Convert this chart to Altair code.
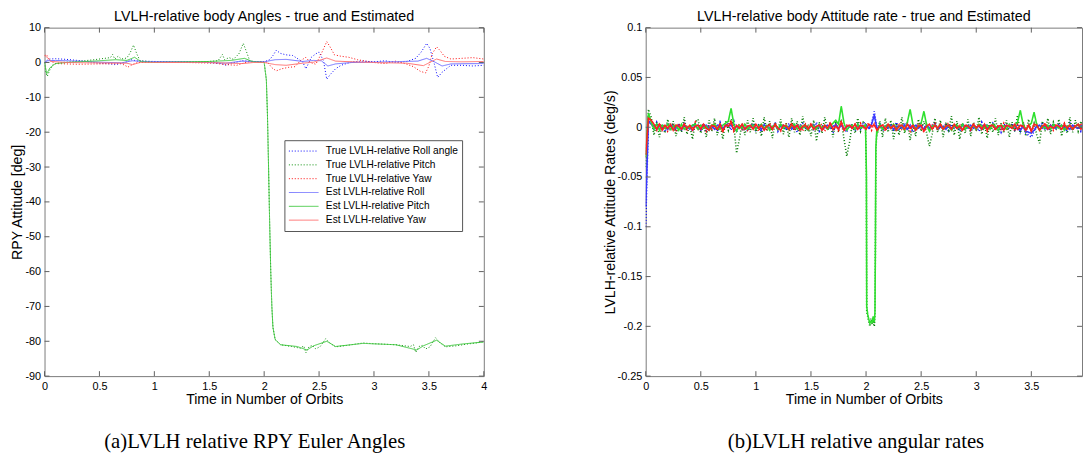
import altair as alt
import pandas as pd

# ---------------- shared series definitions ----------------
series_names = ["True LVLH-relative Roll angle", "True LVLH-relative Pitch", "True LVLH-relative Yaw",
                "Est LVLH-relative Roll", "Est LVLH-relative Pitch", "Est LVLH-relative Yaw"]
series_colors = ["#0000ff", "#008a00", "#ff0000", "#6f6fff", "#3fc83f", "#ff6f6f"]
series_colors_rates = ["#0000ff", "#007a00", "#ff0000", "#3a3aff", "#2ee02e", "#ff2020"]
series_dashes = [[1, 2], [1, 2], [1, 2], [1, 0], [1, 0], [1, 0]]

titles = ["LVLH-relative body Angles - true and Estimated",
          "LVLH-relative body Attitude rate - true and Estimated"]
x_title = "Time in Number of Orbits"
y_titles = ["RPY Attitude [deg]", "LVLH-relative Attitude Rates (deg/s)"]
captions = ["(a)LVLH relative RPY Euler Angles", "(b)LVLH relative angular rates"]

x_ticks_left = [0, 0.5, 1, 1.5, 2, 2.5, 3, 3.5, 4]
x_ticks_right = [0, 0.5, 1, 1.5, 2, 2.5, 3, 3.5]
y_ticks_left = [-90, -80, -70, -60, -50, -40, -30, -20, -10, 0, 10]
y_ticks_right = [-0.25, -0.2, -0.15, -0.1, -0.05, 0, 0.05, 0.1]

# ---------------- left panel: angles (deg) ----------------
true_roll_t = [0, 0.02, 0.05, 0.1, 0.2, 0.3, 0.4, 0.5, 0.6, 0.64, 0.7, 0.75, 0.79, 0.85, 1.0, 1.2, 1.4, 1.55, 1.62, 1.65,
               1.7, 1.8, 1.9, 2.0, 2.05, 2.08, 2.11, 2.15, 2.2, 2.26, 2.3, 2.35, 2.38, 2.43, 2.47, 2.5, 2.54, 2.57, 2.6, 2.65,
               2.7, 2.8, 2.9, 3.0, 3.1, 3.2, 3.3, 3.38, 3.43, 3.48, 3.51, 3.55, 3.58, 3.62, 3.7, 3.8, 3.9, 4.0]
true_roll_v = [0, 0.6, 1.0, 1.1, 0.9, 0.6, 0.2, -0.2, -0.4, -0.6, -0.3, 0.2, 0.8, 0.4, 0.3, 0.2, 0.1, 0, -0.4, -0.8,
               -0.2, 0.5, 0.3, 0.2, 0.8, 2.0, 3.5, 2.6, 2.2, 2.0, 1.2, 0.2, -1.8, 1.5, 2.5, 3.0, 0.5, -4.8, -3.5, -1.8,
               -0.8, 0.2, 0.4, 0.2, 0.5, 0, 0.3, 1.2, 3.0, 5.5, 4.0, -0.5, -4.3, -2.8, -0.8, -0.8, -1.0, -0.8]

true_pitch_t = [0, 0.01, 0.025, 0.05, 0.08, 0.15, 0.3, 0.45, 0.55, 0.6, 0.62, 0.64, 0.67, 0.7, 0.75, 0.78, 0.81, 0.84, 0.87, 0.95,
                1.2, 1.45, 1.58, 1.62, 1.64, 1.68, 1.72, 1.77, 1.81, 1.84, 1.87, 1.95, 2.0, 2.02, 2.03, 2.04, 2.05, 2.06, 2.07, 2.08,
                2.1, 2.15, 2.25, 2.33, 2.36, 2.38, 2.41, 2.44, 2.47, 2.51, 2.56, 2.6, 2.65, 2.75, 2.9, 3.0, 3.2, 3.33, 3.36, 3.38,
                3.41, 3.44, 3.47, 3.51, 3.56, 3.6, 3.65, 3.75, 3.85, 3.95, 4.0]
true_pitch_v = [0, -2.5, -4.0, -2.0, -0.5, 0, 0.3, 0.8, 1.2, 1.4, 2.3, 1.0, 1.8, 1.0, 1.3, 2.8, 5.0, 2.5, 0.5, 0.3,
                0.2, 0.2, 0.5, 2.3, 0.8, 1.4, 0.9, 2.5, 5.5, 3.0, 0.4, 0.2, 0.1, -5, -15, -30, -46, -60, -70, -76,
                -79.5, -81, -81.5, -82, -81.3, -83.3, -81.5, -81.2, -82.2, -81.5, -79.3, -80.5, -81.6, -81.2, -80.5, -80.7, -81.0, -81.5, -81.0, -83.2,
                -81.5, -81.2, -82.2, -81.6, -79.0, -80.4, -81.6, -81.3, -80.8, -80.4, -80.1]

true_yaw_t = [0, 0.02, 0.05, 0.1, 0.3, 0.5, 0.7, 0.76, 0.8, 0.85, 1.0, 1.3, 1.55, 1.65, 1.75, 1.8, 1.85, 1.95, 2.03, 2.07,
              2.11, 2.16, 2.22, 2.28, 2.33, 2.38, 2.42, 2.47, 2.52, 2.57, 2.6, 2.64, 2.7, 2.77, 2.85, 3.0, 3.1, 3.2, 3.3, 3.36,
              3.42, 3.47, 3.5, 3.53, 3.57, 3.6, 3.64, 3.7, 3.8, 3.9, 4.0]
true_yaw_v = [2.0, 2.2, 0.5, -0.3, -0.5, -0.4, -0.3, -1.3, -0.6, 0, 0.1, 0, -0.2, -0.6, -0.8, -0.3, 0.2, 0.3, 0.1, -1.5,
              -2.4, -1.8, -1.4, -1.2, 0.5, 1.5, 0, -0.5, 2.5, 6.0, 4.5, 2.2, 1.8, 1.5, 0.8, 0, -0.3, 0.4, -0.5, -1.2,
              -2.5, -3.0, -1.0, 2.5, 4.5, 3.5, 1.8, 1.0, 1.2, 1.4, 1.0]

est_roll_t = [0, 0.03, 0.1, 0.3, 0.5, 0.7, 0.8, 0.9, 1.3, 1.65, 1.8, 2.0, 2.1, 2.2, 2.35, 2.45, 2.52, 2.58, 2.65, 2.8,
              3.0, 3.4, 3.48, 3.55, 3.62, 3.7, 4.0]
est_roll_v = [0, 0.5, 0.6, 0.4, 0.1, -0.1, 0.5, 0.3, 0.2, -0.2, 0.4, 0.2, 0.8, 0.9, 0.3, 0.6, 0.5, -1.0, -0.4, 0,
              0.1, 0.4, 1.2, 0.2, -1.0, -0.4, -0.3]

est_pitch_t = [0, 0.02, 0.05, 0.1, 0.2, 0.5, 0.65, 0.75, 0.82, 0.88, 1.0, 1.5, 1.7, 1.82, 1.9, 2.0, 2.02, 2.03, 2.04, 2.05,
               2.06, 2.07, 2.08, 2.1, 2.15, 2.3, 2.39, 2.45, 2.57, 2.65, 2.9, 3.2, 3.39, 3.45, 3.57, 3.65, 3.8, 4.0]
est_pitch_v = [0, -3.2, -1.5, -0.3, 0, 0.5, 0.8, 0.6, 1.5, 0.2, 0, 0.3, 0.6, 1.2, 0.2, 0, -5, -15, -30, -46,
               -60, -70, -76, -79.5, -81, -81.5, -82.5, -81.3, -80, -81.5, -80.6, -81, -82.5, -81.3, -79.7, -81.4, -80.8, -80.2]

est_yaw_t = [0, 0.02, 0.06, 0.2, 0.75, 0.8, 0.87, 1.5, 1.8, 1.9, 2.0, 2.1, 2.2, 2.35, 2.45, 2.57, 2.65, 2.8, 3.0, 3.3,
             3.45, 3.57, 3.65, 3.8, 4.0]
est_yaw_v = [2.0, 1.6, 0.3, 0, -0.2, -0.6, 0, 0, -0.3, 0, 0, -0.6, -0.8, -0.2, 0.1, 1.3, 0.4, 0.2, 0, -0.2,
             -0.9, 1.0, 0.3, 0.2, 0.3]

# ---------------- right panel: rates, in 0.001 deg/s, sampled every 0.025 orbit ----------------
rate_step = 0.025
rate_true_roll = [-100, 8, 4, -3, 5, -2, 3, -5, 4, -1, 3, -4, 2, -3, 5, -2, 1, -4, 3, 2,
                  -3, 4, -5, 2, -1, 3, -4, 5, -2, 1, 4, -3, 6, -5, 2, -2, 3, -4, 1, 4,
                  -3, 2, -5, 4, -1, 3, -2, 5, -4, 2, 1, -3, 4, -2, 3, -5, 2, 4, -1, -3,
                  3, -2, 5, -4, 1, 2, -3, 4, -6, 3, -2, 4, -1, -5, 3, 2, -4, 3, -2, 5,
                  3, -2, 4, 16, -3, 5, -4, 2, -1, 3, -4, 5, -2, 1, 4, -3, 2, -5, 3, -1,
                  4, -2, 3, -4, 2, 5, -3, 1, -2, 4, -5, 3, -1, 2, -4, 4, -2, 3, -3, 1,
                  2, -4, 5, -2, 3, -1, 4, -3, 2, -5, 3, 1, -2, 4, -3, 2, -4, 5, -6, -8,
                  -10, -4, 3, -2, 5, -3, 2, -4, 4, -1, 3, -3, 2, -5, 4, -2, 1, 3, -4, 2, -1]
rate_true_pitch = [-40, 18, 10, -8, 5, -10, 3, -6, 8, -4, 6, -9, 4, -5, 10, -7, 2, -12, 5, 8,
                   -6, 3, -10, 7, -4, 9, -8, 4, -12, 6, -3, 8, 2, -26, -12, 4, -8, 7, -5, 9,
                   -6, 3, -9, 10, -4, 6, -11, 5, -3, 8, -7, 4, -10, 9, -5, 6, -8, 11, -4, 3,
                   -9, 7, -14, 5, -6, 10, -3, 4, -10, 6, -5, 8, -12, -29, -15, 3, -6, 9, -4, 5,
                   -2, -185, -200, -172, -8, 6, -10, 9, -5, 7, -12, 4, -8, 10, -6, 5, -13, 3, -9, 8,
                   -4, 6, -6, -19, -7, 9, -5, 7, -10, 5, -3, 11, -8, 6, -12, 4, -6, 8, -9, 5,
                   -4, 10, -7, 3, -11, 6, -5, 9, -8, 4, -6, 7, -10, 5, -4, 12, -7, 6, -9, 8,
                   -5, 4, -8, -16, 6, -4, 9, -7, 5, -3, 8, -9, 4, -6, 10, -5, 7, -4, 6, -8, 3]
rate_true_yaw = [-30, 9, 6, 2, -3, 4, -2, 3, -4, 1, 2, -3, 4, -1, 3, -4, 2, -2, 5, -3,
                 1, 3, -4, 2, -2, 4, -3, 1, -5, 3, 2, 7, -4, 1, 3, -2, 4, -3, 2, -1,
                 3, -4, 2, 1, -3, 4, -2, 3, -1, -4, 2, 3, -2, 4, -3, 1, 2, -4, 3, -2,
                 4, -1, -3, 2, 3, -4, 1, 5, -2, 3, -3, 6, -4, 2, 1, -2, 3, -3, 4, -1,
                 2, 4, -3, 5, -2, 1, 3, -4, 2, -1, 3, -2, 4, -3, 1, 2, -4, 3, -2, 4,
                 -1, -5, 3, -2, 2, 4, -3, 1, -2, 3, 4, -3, 2, -1, 3, -4, 2, 1, -3, 4,
                 -2, 3, -1, 2, -4, 3, 1, -3, 2, -2, 4, -3, 1, 2, -4, 3, -2, 4, -1, 3,
                 -5, 2, 3, -3, 1, 4, -2, 2, -3, 3, 1, -2, 4, -3, 2, -1, 3, -2, 4, -3, 2]
rate_est_roll = [-80, 6, 3, 1, -2, 2, -1, 1, -2, 2, 1, -1, 2, -2, 1, 0, -2, 2, 1, -1,
                 -2, 1, 2, -1, 1, -2, 2, 0, -1, 2, 1, 2, -2, 1, -1, 2, -2, 1, 0, 2,
                 -1, 1, -2, 2, 1, -1, 0, 2, -2, 1, 2, -1, 1, -2, 1, 2, -1, 0, 1, -2,
                 1, 2, -1, 1, -2, 0, 2, -1, 1, 2, -1, 2, -2, 1, 0, 1, -2, 2, -1, 1,
                 2, -1, 3, 12, -2, 2, -1, 1, 0, 2, -2, 1, 1, -1, 2, -2, 1, 0, 2, -1,
                 1, -2, 2, -1, 1, 2, -1, 0, 1, -2, 2, -1, 1, 0, -2, 2, 1, -1, 2, -1,
                 0, 1, -2, 2, -1, 1, 2, -1, 0, 1, -2, 2, 1, -1, 2, -2, -3, 1, -4, -5,
                 -6, -3, 1, 2, -1, 1, -2, 2, 0, -1, 1, 2, -1, 1, -2, 2, 0, -1, 1, 2, -1]
rate_est_pitch = [-30, 14, 5, -2, 3, -3, 2, -1, 3, -2, 1, 2, -3, 3, -2, 1, -1, 2, 3, -2,
                  2, -1, 1, -3, 2, 3, -1, -2, 2, 4, 6, 19, 3, -4, 2, -1, 3, -2, 1, 2,
                  -2, 1, 3, -1, 2, -3, 1, 2, -2, 3, -1, 2, -2, 1, 3, -2, 1, -1, 2, -3,
                  2, 1, -2, 3, -1, 2, -2, 1, 4, 7, 3, 21, 4, -3, 1, 2, -2, 3, -1, 1,
                  0, -180, -196, -165, -6, 3, -2, 1, 2, -1, 3, -2, 1, 2, -3, 5, 18, 3, -2, 1,
                  4, 16, 2, -4, 1, 2, -1, 3, -2, 1, 2, -3, 1, 2, -1, 3, -2, 1, -1, 2,
                  -2, 3, 1, -1, 2, -2, 3, 1, -3, 2, 1, -2, 3, -1, 2, 5, 17, 3, -2, 1,
                  4, 15, 2, -3, 1, -1, 2, -2, 3, 1, -1, 2, -3, 1, 2, -2, 1, 3, -1, 2, -2]
rate_est_yaw = [-28, 9, 7, 3, -2, 3, -3, 2, -1, 3, -3, 2, 1, -2, 3, -1, 2, -3, 1, 2,
                -2, 3, -1, -3, 2, 1, -2, 3, -4, 2, 1, 5, -3, 2, -1, 3, -2, 1, 2, -2,
                3, -1, 2, -3, 1, 2, -2, 3, -1, -3, 2, 1, -2, 3, -1, 2, -3, 1, 2, -2,
                3, -2, 1, 2, -3, 2, -1, 4, -2, 1, -2, 5, -3, 1, 2, -1, 3, -2, 2, 1,
                -2, 3, 1, 2, -3, 1, 2, -2, 3, -1, 2, -3, 1, 2, -2, 3, -1, 2, -3, 1,
                2, -4, 1, 3, -2, 2, -1, 3, -2, 1, 2, -2, 3, -1, 1, -3, 2, 1, -2, 3,
                -1, 2, -2, 3, -3, 1, 2, -2, 1, 2, -3, 2, 1, -1, 3, -2, 2, 1, -3, 2,
                -4, 3, 2, -3, 1, 3, -2, 1, -1, 2, 1, -2, 3, -1, 2, -2, 1, 3, -2, 1, 2]

# pitch-rate dip during the slew (orbit 2.0 - 2.1), finer samples, 0.001 deg/s
slew_t = [1.995, 2.003, 2.006, 2.015, 2.025, 2.035, 2.045, 2.055, 2.065, 2.075, 2.081, 2.085, 2.089, 2.098]
slew_true_pitch = [3, -50, -185, -190, -196, -200, -192, -198, -194, -200, -188, -120, -25, -4]
slew_est_pitch = [2, -45, -180, -188, -193, -197, -195, -196, -190, -196, -185, -115, -20, -2]

# ---------------- build tables ----------------
left_rows = []
for name, ts, vs in zip(series_names,
                        [true_roll_t, true_pitch_t, true_yaw_t, est_roll_t, est_pitch_t, est_yaw_t],
                        [true_roll_v, true_pitch_v, true_yaw_v, est_roll_v, est_pitch_v, est_yaw_v]):
    for t, v in zip(ts, vs):
        left_rows.append({"t": t, "v": v, "series": name})
left_df = pd.DataFrame(left_rows)

slew_by_series = {series_names[1]: slew_true_pitch, series_names[4]: slew_est_pitch}
right_rows = []
for name, vs in zip(series_names, [rate_true_roll, rate_true_pitch, rate_true_yaw,
                                   rate_est_roll, rate_est_pitch, rate_est_yaw]):
    pts = []
    for i, v in enumerate(vs):
        t = round(i * rate_step, 4)
        if name in slew_by_series and slew_t[0] <= t <= slew_t[-1]:
            continue
        pts.append((t, v))
    if name in slew_by_series:
        pts += list(zip(slew_t, slew_by_series[name]))
    pts.sort()
    for t, v in pts:
        right_rows.append({"t": t, "v": v / 1000.0, "series": name})
right_df = pd.DataFrame(right_rows)

# ---------------- styling ----------------
FONT = "Liberation Sans"
GREY = "#606060"
H = 353
TICK = 5


def x_enc(field, dom, vals, tpad):
    return alt.X(field, scale=alt.Scale(domain=dom, nice=False, zero=False),
                 axis=alt.Axis(values=vals, labelExpr="'' + datum.value", tickSize=0, domain=False,
                               grid=False, labelFlush=False, labelPadding=5, labelFontSize=11, labelFont=FONT,
                               labelColor="black", title=x_title, titleFont=FONT, titleFontSize=14.3,
                               titleFontWeight="normal", titleColor="black", titlePadding=tpad))


def y_enc(field, dom, vals, ttl, tpad):
    return alt.Y(field, scale=alt.Scale(domain=dom, nice=False, zero=False),
                 axis=alt.Axis(values=vals, labelExpr="'' + datum.value", tickSize=0, domain=False,
                               grid=False, labelFlush=False, labelPadding=4, labelFontSize=11, labelFont=FONT,
                               labelColor="black", title=ttl, titleFont=FONT, titleFontSize=14.3,
                               titleFontWeight="normal", titleColor="black", titlePadding=tpad))


def panel(df, xdom, xvals, ydom, yvals, ttl, title_text, caption, width, colors, sw, show_legend):
    if show_legend:
        leg = alt.Legend(title=None, orient="none", legendX=243, legendY=114, fillColor="white",
                         strokeColor="#555555", padding=4, symbolType="stroke", symbolSize=900,
                         symbolStrokeWidth=1, labelFontSize=10.3, labelFont=FONT, labelColor="black",
                         clipHeight=14, labelLimit=300, labelOffset=7, rowPadding=0)
    else:
        leg = None
    X = lambda: x_enc("t:Q", xdom, xvals, 1)
    Y = lambda: y_enc("v:Q", ydom, yvals, ttl, 0)
    lines = alt.Chart(df).mark_line(strokeWidth=sw, clip=True).encode(
        x=X(), y=Y(),
        color=alt.Color("series:N", scale=alt.Scale(domain=series_names, range=colors), legend=leg),
        strokeDash=alt.StrokeDash("series:N", scale=alt.Scale(domain=series_names, range=series_dashes), legend=leg),
    )
    xt = pd.DataFrame({"t": xvals})
    yt = pd.DataFrame({"v": yvals})
    xb = alt.Chart(xt).mark_rule(color=GREY, strokeWidth=1).encode(
        x=X(), y=alt.value(H), y2=alt.value(H - TICK))
    xtop = alt.Chart(xt).mark_rule(color=GREY, strokeWidth=1).encode(
        x=X(), y=alt.value(0), y2=alt.value(TICK))
    yl = alt.Chart(yt).mark_rule(color=GREY, strokeWidth=1).encode(
        y=Y(), x=alt.value(0), x2=alt.value(TICK))
    yr = alt.Chart(yt).mark_rule(color=GREY, strokeWidth=1).encode(
        y=Y(), x=alt.value(width - TICK), x2=alt.value(width))
    cap = alt.Chart(pd.DataFrame({"c": [caption]})).mark_text(
        font="Liberation Serif", fontSize=21, color="black", align="center", baseline="middle").encode(
        text="c:N", x=alt.value(213), y=alt.value(H + 67))
    return alt.layer(lines, xb, xtop, yl, yr, cap).properties(
        width=width, height=H,
        title=alt.TitleParams(title_text, font=FONT, fontSize=14.5, fontWeight="normal", color="black",
                              anchor="middle", frame="group", offset=-3))


left = panel(left_df, [0, 4], x_ticks_left, [-90, 10], y_ticks_left, y_titles[0], titles[0], captions[0],
             445, series_colors, 1, True)
right = panel(right_df, [0, 3.96], x_ticks_right, [-0.25, 0.1], y_ticks_right, y_titles[1], titles[1], captions[1],
              442, series_colors_rates, 1.6, False)

chart = alt.hconcat(left, right, spacing=116).resolve_scale(
    color="independent", strokeDash="independent").properties(
    padding={"left": 2, "top": -2, "right": 0, "bottom": 0}).configure_view(
    stroke="#7a7a7a", strokeWidth=1)

chart.save("out.html", embed_options={"renderer": "svg", "actions": False})
